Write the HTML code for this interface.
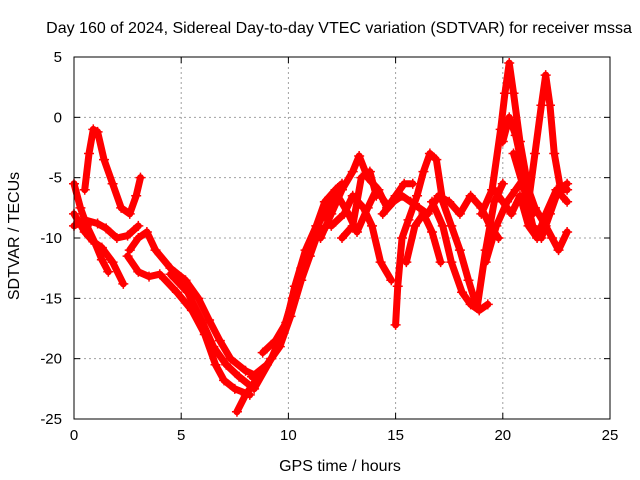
<!DOCTYPE html>
<html><head><meta charset="utf-8"><style>
body{margin:0;background:#fff;}
svg{display:block;font-family:"Liberation Sans",sans-serif;}
</style></head><body>
<svg id="chart" width="640" height="480" viewBox="0 0 640 480">
<text x="339" y="33" font-size="16" text-anchor="middle" fill="#000">Day 160 of 2024, Sidereal Day-to-day VTEC variation (SDTVAR) for receiver mssa</text>
<text x="340" y="471" font-size="16" text-anchor="middle" fill="#000">GPS time / hours</text>
<text transform="translate(19,236) rotate(-90)" font-size="16" text-anchor="middle" fill="#000">SDTVAR / TECUs</text>
<g id="grid"></g>
<g id="ticks"></g>
<g id="series"></g>
<rect x="74" y="57" width="536" height="362" fill="none" stroke="#000" stroke-width="1"/>
</svg>
<script>
const xTicks=[0,5,10,15,20,25];
const yTicks=[-25,-20,-15,-10,-5,0,5];
const trackA_t=[0,0.3,0.6,1.0,1.3,1.6];
const trackA_v=[-5.5,-7.5,-9,-10.5,-11.8,-12.8];
const trackA2_t=[0,0.5,0.9,1.3,1.8,2.3];
const trackA2_v=[-8,-9.5,-10.3,-10.8,-12,-13.8];
const trackB_t=[0.5,0.7,0.9,1.1,1.4,1.8,2.2,2.6,2.9,3.1];
const trackB_v=[-6,-3,-1,-1.2,-3.5,-5.5,-7.5,-8,-6.5,-5];
const trackC_t=[0,0.5,1.1,1.5,2.0,2.5,3.0];
const trackC_v=[-9,-8.5,-8.8,-9.2,-10,-9.8,-9];
const trackD_t=[2.6,3.0,3.4,3.8,4.5,5.2,5.8,6.3,6.8,7.3,8.0,8.6];
const trackD_v=[-11,-10,-9.5,-11,-12.5,-13.5,-15,-16.8,-18.5,-20,-21,-21.5];
const trackD2_t=[2.5,3.0,3.5,4.0,4.8,5.5,6.1,6.6,7.0,7.5,8.2];
const trackD2_v=[-11.5,-12.8,-13.2,-13,-14.5,-16,-18,-20.5,-21.8,-22.5,-23];
const trackD3_t=[4.5,5.3,6.0,6.5,7.1,7.7,8.4,9.2];
const trackD3_v=[-13,-14.5,-17,-19,-20.5,-21.5,-22.5,-20];
const trackR_t=[7.6,8.0,8.6,9.2,9.7,10.2,10.6,11.0,11.5,12.0];
const trackR_v=[-24.4,-23,-21.5,-20,-18,-15,-12.5,-10.5,-8.5,-7.5];
const trackR2_t=[8.8,9.4,9.9,10.3,10.8,11.3,11.7,12.2,12.5];
const trackR2_v=[-19.5,-18.5,-17,-14,-11,-9,-7,-6,-5.5];
const trackR3_t=[8.3,9.0,9.6,10.1,10.6,11.0,11.4,11.8];
const trackR3_v=[-21.5,-20.5,-19,-16.5,-13.5,-11.5,-9.5,-9];
const trackE_t=[11.5,12.0,12.5,13.0,13.3,13.7,14.2,14.6,15.0,15.4,15.8];
const trackE_v=[-10,-8,-6,-4.5,-3.2,-5,-6,-7.5,-6.5,-5.5,-5.5];
const trackE2_t=[12.0,12.6,13.0,13.5,13.9,14.3,14.8];
const trackE2_v=[-9,-8,-6.5,-7.5,-9,-12,-13.5];
const trackE3_t=[11.8,12.3,12.8,13.2,13.7,14.1,14.5];
const trackE3_v=[-7.5,-6.5,-8,-9.5,-7.5,-6,-7];
const trackE4_t=[12.5,13.0,13.4,13.8,14.1];
const trackE4_v=[-10,-9,-5,-4.5,-6.5];
const trackF_t=[15.0,15.1,15.3,15.6,16.0,16.3,16.6,16.9,17.2,17.6,18.0,18.4,18.8,19.2,19.6,20.0];
const trackF_v=[-17.2,-14,-10,-8.5,-6.5,-4.5,-3,-3.5,-7,-9,-11,-13.5,-15.8,-11,-7,-5.5];
const trackF2_t=[14.4,14.9,15.3,15.7,16.1,16.5,17.0,17.5,18.0,18.5,19.0,19.4,19.8];
const trackF2_v=[-8,-7,-6.5,-7,-7.5,-8,-6.5,-7,-8,-6.5,-7.5,-9,-10];
const trackF3_t=[16.7,17.2,17.6,18.1,18.5,18.9,19.3];
const trackF3_v=[-7,-9,-12,-14.5,-15.5,-16,-15.5];
const trackF4_t=[15.5,15.9,16.3,16.7,17.1];
const trackF4_v=[-12,-9,-8,-9.5,-12];
const trackG_t=[19.0,19.5,19.9,20.1,20.3,20.5,20.8,21.1,21.4];
const trackG_v=[-8,-6,-1,2,4.5,2,-2,-5,-8];
const trackG2_t=[19.2,19.7,20.2,20.6,21.0,21.5,22.0,22.3,22.6,23.0];
const trackG2_v=[-12,-9,-7,-6,-5,-7.5,-9,-10,-11,-9.5];
const trackG3_t=[19.6,20.0,20.4,20.8,21.2,21.6,22.0,22.5,23.0];
const trackG3_v=[-6,-7,-8,-6.5,-9,-10,-8,-6,-7];
const trackH_t=[21.2,21.5,21.8,22.0,22.2,22.4,22.7,23.0];
const trackH_v=[-7,-3,1,3.5,1,-3,-6,-6];
const trackH2_t=[20.5,21.0,21.4,21.8,22.2,22.6,23.0];
const trackH2_v=[-3,-6,-9,-10,-8,-6,-5.5];
const trackH3_t=[20.0,20.3,20.6,20.9,21.2];
const trackH3_v=[-2,0,-1.5,-4,-6];
const tracks=[[trackA_t,trackA_v],[trackA2_t,trackA2_v],[trackB_t,trackB_v],[trackC_t,trackC_v],[trackD_t,trackD_v],[trackD2_t,trackD2_v],[trackD3_t,trackD3_v],[trackR_t,trackR_v],[trackR2_t,trackR2_v],[trackR3_t,trackR3_v],[trackE_t,trackE_v],[trackE2_t,trackE2_v],[trackE3_t,trackE3_v],[trackE4_t,trackE4_v],[trackF_t,trackF_v],[trackF2_t,trackF2_v],[trackF3_t,trackF3_v],[trackF4_t,trackF4_v],[trackG_t,trackG_v],[trackG2_t,trackG2_v],[trackG3_t,trackG3_v],[trackH_t,trackH_v],[trackH2_t,trackH2_v],[trackH3_t,trackH3_v]];

const NS="http://www.w3.org/2000/svg";
const X0=74,X1=610,Y0=419,Y1=57;
function sx(t){return X0+(t-0)/(25-0)*(X1-X0);}
function sy(v){return Y0-(v-(-25))/(5-(-25))*(Y0-Y1);}
function mk(tag,attrs,parent){const e=document.createElementNS(NS,tag);for(const k in attrs)e.setAttribute(k,attrs[k]);parent.appendChild(e);return e;}
const grid=document.getElementById('grid'),ticks=document.getElementById('ticks'),series=document.getElementById('series');
xTicks.forEach(t=>{
  const x=sx(t);
  if(t>0&&t<25){const g=mk('line',{x1:x,x2:x,y1:Y1,y2:Y0,stroke:'#a0a0a0','stroke-dasharray':'2,3'},grid);
  
  }
  mk('line',{x1:x,x2:x,y1:Y0,y2:Y0-6,stroke:'#000'},ticks);
  mk('line',{x1:x,x2:x,y1:Y1,y2:Y1+6,stroke:'#000'},ticks);
  const l=mk('text',{x:x,y:Y0+21,'font-size':15,'text-anchor':'middle'},ticks);l.textContent=t;
  
  
});
yTicks.forEach(v=>{
  const y=sy(v);
  if(v>-25&&v<5){const g=mk('line',{x1:X0,x2:X1,y1:y,y2:y,stroke:'#a0a0a0','stroke-dasharray':'2,3'},grid);
  
  }
  mk('line',{x1:X0,x2:X0+6,y1:y,y2:y,stroke:'#000'},ticks);
  mk('line',{x1:X1,x2:X1-6,y1:y,y2:y,stroke:'#000'},ticks);
  const l=mk('text',{x:X0-12,y:y+5,'font-size':15,'text-anchor':'end'},ticks);l.textContent=v;
  
  
});
tracks.forEach((tr,i)=>{
  const ts=tr[0],vs=tr[1];
  const pts=ts.map((t,j)=>sx(t)+','+sy(vs[j])).join(' ');
  const pl=mk('polyline',{points:pts,fill:'none',stroke:'#ff0000','stroke-width':7,'stroke-linejoin':'round','stroke-linecap':'round'},series);
  
  
  ts.forEach((t,j)=>{
    const x=sx(t),y=sy(vs[j]);
    const p=mk('path',{d:`M${x-5},${y}H${x+5}M${x},${y-5}V${y+5}`,stroke:'#ff0000','stroke-width':1.5},series);
    
    
  });
});
</script>
</body></html>
